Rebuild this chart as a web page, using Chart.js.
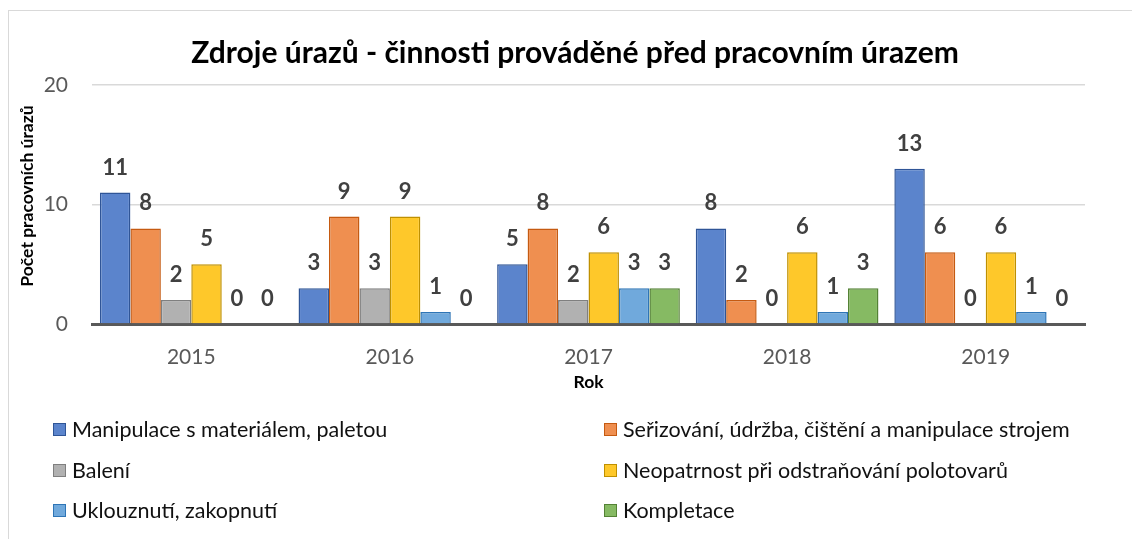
<!DOCTYPE html>
<html>
<head>
<meta charset="utf-8">
<script src="https://cdn.jsdelivr.net/npm/chart.js@4"></script>
<style>
  html, body { margin: 0; padding: 0; background: #fff; overflow: hidden; }
  #wrap { position: relative; width: 1132px; height: 539px; }
  #frame { position: absolute; left: 8px; top: 10px; width: 1200px; height: 600px; border: 1.5px solid #d9d9d9; box-sizing: border-box; }
  #cv { position: absolute; left: 0; top: 0; }
  #legend { position: absolute; left: 0; top: 0; width: 1132px; height: 539px; font-family: Lato, sans-serif; font-size: 21.5px; color: #111; }
  .item { position: absolute; display: flex; align-items: center; white-space: nowrap; transform: translateY(-50%); }
  .box { width: 11px; height: 11px; border: 1.5px solid; margin-right: 6px; }
</style>
</head>
<body>
<div id="wrap">
  <div id="frame"></div>
  <canvas id="cv" width="1132" height="400"></canvas>
  <div id="legend"></div>
</div>
<script>
// data
const roky = ['2015', '2016', '2017', '2018', '2019'];
const manipulaceMaterial = [11, 3, 5, 8, 13];
const serizovani = [8, 9, 8, 2, 6];
const baleni = [2, 3, 2, 0, 0];
const neopatrnost = [5, 9, 6, 6, 6];
const uklouznuti = [0, 1, 3, 1, 1];
const kompletace = [0, 0, 3, 3, 0];

const nazvy = [
    'Manipulace s materiálem, paletou',
    'Seřizování, údržba, čištění a manipulace strojem',
    'Balení',
    'Neopatrnost při odstraňování polotovarů',
    'Uklouznutí, zakopnutí',
    'Kompletace'
];
const hodnoty = [manipulaceMaterial, serizovani, baleni, neopatrnost, uklouznuti, kompletace];
const vyplne = ['#5b84cc', '#ef8f50', '#b1b1b1', '#fec82a', '#70a9dc', '#86ba63'];
const okraje = ['#2f5597', '#c55a11', '#7f7f7f', '#bf9000', '#2e75b6', '#548235'];

const titulek = 'Zdroje úrazů - činnosti prováděné před pracovním úrazem';
const osaY = 'Počet pracovních úrazů';

// popisky hodnot nad sloupci
const popiskyPlugin = {
    id: 'popisky',
    afterDatasetsDraw(chart) {
        const c = chart.ctx;
        c.save();
        c.font = 'bold 22px Lato';
        c.fillStyle = '#404040';
        c.textAlign = 'center';
        c.textBaseline = 'middle';
        chart.data.datasets.forEach((ds, i) => {
            chart.getDatasetMeta(i).data.forEach((bar, j) => {
                c.fillText(ds.data[j], bar.x, bar.y - 25);
            });
        });
        c.restore();
    }
};

// nadpis grafu a popis osy y
const nadpisPlugin = {
    id: 'nadpis',
    afterDraw(chart) {
        const c = chart.ctx;
        c.save();
        c.font = 'bold 30px Lato';
        c.fillStyle = '#000';
        c.textAlign = 'center';
        c.textBaseline = 'middle';
        c.fillText(titulek, 575, 53);
        c.translate(27, 196);
        c.rotate(-Math.PI / 2);
        c.font = 'bold 17.5px Lato';
        c.fillText(osaY, 0, 0);
        c.restore();
    }
};

const ctx = document.getElementById('cv').getContext('2d');
const graf = new Chart(ctx, {
    type: 'bar',
    data: {
        labels: roky,
        datasets: nazvy.map((n, i) => ({
            label: n,
            data: hodnoty[i],
            backgroundColor: vyplne[i],
            borderColor: okraje[i],
            borderWidth: 1.5,
            categoryPercentage: 0.92,
            barPercentage: 1.0
        }))
    },
    options: {
        responsive: false,
        animation: false,
        layout: { padding: { left: 14, right: 47, top: 85, bottom: 0 } },
        plugins: {
            legend: { display: false },
            tooltip: { enabled: false }
        },
        scales: {
            x: {
                z: 1,
                grid: { display: false, drawTicks: false },
                border: { display: true, color: '#595959', width: 3 },
                ticks: { color: '#595959', font: { family: 'Lato', size: 21 }, padding: 21 },
                title: { display: true, text: 'Rok', color: '#000', font: { family: 'Lato', size: 17.5, weight: 'bold' }, padding: { top: 0, bottom: 7 } },
                afterFit(s) { s.height = 76; }
            },
            y: {
                min: 0,
                max: 20,
                ticks: { stepSize: 10, color: '#595959', font: { family: 'Lato', size: 21 }, padding: 24 },
                grid: { color: '#d9d9d9', lineWidth: 1.5, drawTicks: false },
                border: { display: false },
                afterFit(s) { s.width = 78; }
            }
        }
    },
    plugins: [popiskyPlugin, nadpisPlugin]
});

// legenda ve dvou sloupcich
const leg = document.getElementById('legend');
const sloupceX = [53, 604];
const radkyY = [429, 470, 510];
graf.data.datasets.forEach((ds, i) => {
    const el = document.createElement('div');
    el.className = 'item';
    el.style.left = sloupceX[i % 2] + 'px';
    el.style.top = radkyY[Math.floor(i / 2)] + 'px';
    const b = document.createElement('span');
    b.className = 'box';
    b.style.background = ds.backgroundColor;
    b.style.borderColor = ds.borderColor;
    el.appendChild(b);
    el.appendChild(document.createTextNode(ds.label));
    leg.appendChild(el);
});
</script>
</body>
</html>
